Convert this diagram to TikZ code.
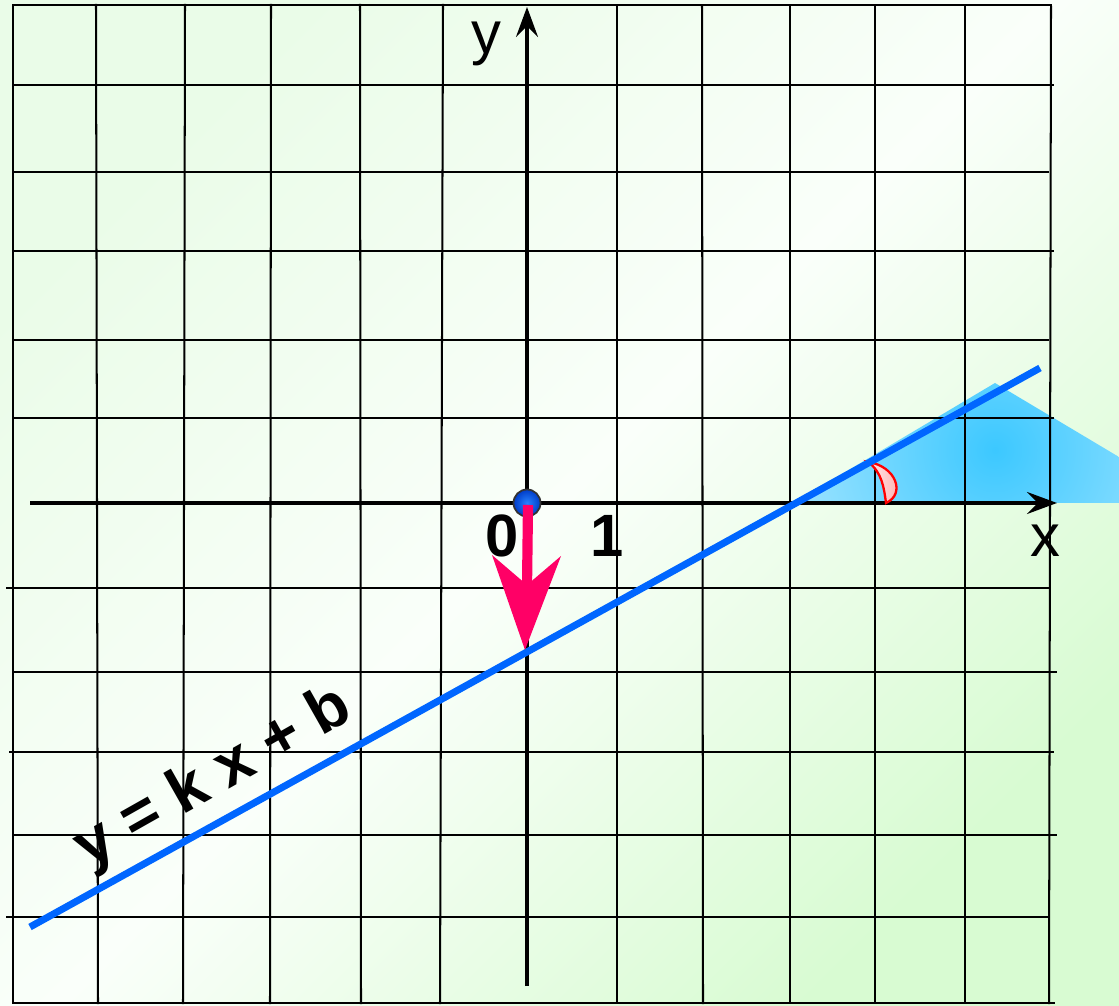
\documentclass[tikz,border=0pt]{standalone}
\usepackage{fontspec}
\setmainfont{Liberation Sans}
\usetikzlibrary{arrows.meta}
\definecolor{bgA}{RGB}{234,252,232}
\definecolor{bgM}{RGB}{250,255,250}
\definecolor{bgB}{RGB}{216,251,210}
\definecolor{lineblue}{RGB}{0,102,255}
\definecolor{arrowpink}{RGB}{255,0,102}
\definecolor{skyc}{RGB}{60,200,255}
\definecolor{dotblue}{RGB}{0,60,200}
\definecolor{dotlight}{RGB}{40,130,255}
\begin{document}
\begin{tikzpicture}[x=0.02cm,y=-0.02cm,
  gridline/.style={line width=1.15pt,black,line cap=rect},
  axisline/.style={line width=1.8pt,black,-{Stealth[length=0.6cm,width=0.44cm,inset=0.22cm]}},
  lbl/.style={inner sep=0pt,font=\fontsize{34}{34}\selectfont},
  numlbl/.style={inner sep=0pt,font=\fontsize{34}{34}\selectfont\bfseries}]
\useasboundingbox (0,0) rectangle (1119,1006);
% background
\shade[top color=bgA,bottom color=bgB,middle color=bgM,shading angle=45] (0,0) rectangle (1119,1006);
% cyan region
\begin{scope}
  \clip (793,503) -- (995,383) -- (1119,457) -- (1119,503) -- cycle;
  \shade[inner color=skyc,outer color=white] (995,450) circle (420);
\end{scope}
% grid: vertical lines
\foreach \xa/\xb/\ya/\yb in {13/13/5/1003, 96/98/5/1003, 185/183/5/1003, 271/270/5/1003,
  360/361/5/1003, 443/440/5/1003, 617/617/5/1003, 702/703/6/1003, 790/790/6/1003,
  875/875/6/1003, 965/965/6/1003, 1051/1049/7/1003}
  \draw[gridline] (\xa,\ya) -- (\xb,\yb);
% grid: horizontal lines
\foreach \y/\xa/\xb in {5/13/1051, 85/15/1053, 172/13/1048, 251/13/1053, 340/13/1048,
  418/15/1053, 588/7/1048, 672/13/1056, 752/10/1053, 835/13/1056, 917/7/1048, 1003/13/1054}
  \draw[gridline] (\xa,\y) -- (\xb,\y);
% axes
\coordinate (xs) at (30,503);
\coordinate (xe) at (1057,503);
\coordinate (ys) at (527,986);
\coordinate (ye) at (527,7);
\draw[axisline] (xs) -- (xe);
\draw[axisline] (ys) -- (ye);
% angle mark
\shadedraw[draw=red,left color=red!8,right color=red!35,line width=1.3pt]
  (868,462) .. controls (896,466) and (906,494) .. (886,503)
  .. controls (884,488) and (882,472) .. (868,462) -- cycle;
% line y = kx + b
\coordinate (L1) at (30,927);
\coordinate (L2) at (1040,368);
\draw[lineblue,line width=4pt] (L1) -- (L2);
% origin dot
\coordinate (O) at (527,503);
\shadedraw[inner color=dotlight,outer color=dotblue,draw=black!80,line width=1pt] (O) circle (13.5);
% pink arrow
\coordinate (P0) at (528,505);
\coordinate (P1) at (527,588);
\coordinate (Ptip) at (525,650);
\draw[arrowpink,line width=5.8pt] (P0) -- (P1);
\fill[arrowpink] (Ptip) -- (492,555) -- (527,585) -- (561,556) -- cycle;
% labels
\node[lbl] (ylab) at (486,44) {y};
\node[lbl] (xlab) at (1045,541) {x};
\node[numlbl] (zero) at (502,536) {0};
\node[numlbl] (one) at (607,536) {1};
\node[inner sep=0pt,font=\fontsize{36}{36}\selectfont\bfseries,rotate=29.5] (eq) at (214,779) {y = k x + b};
\end{tikzpicture}
\end{document}
